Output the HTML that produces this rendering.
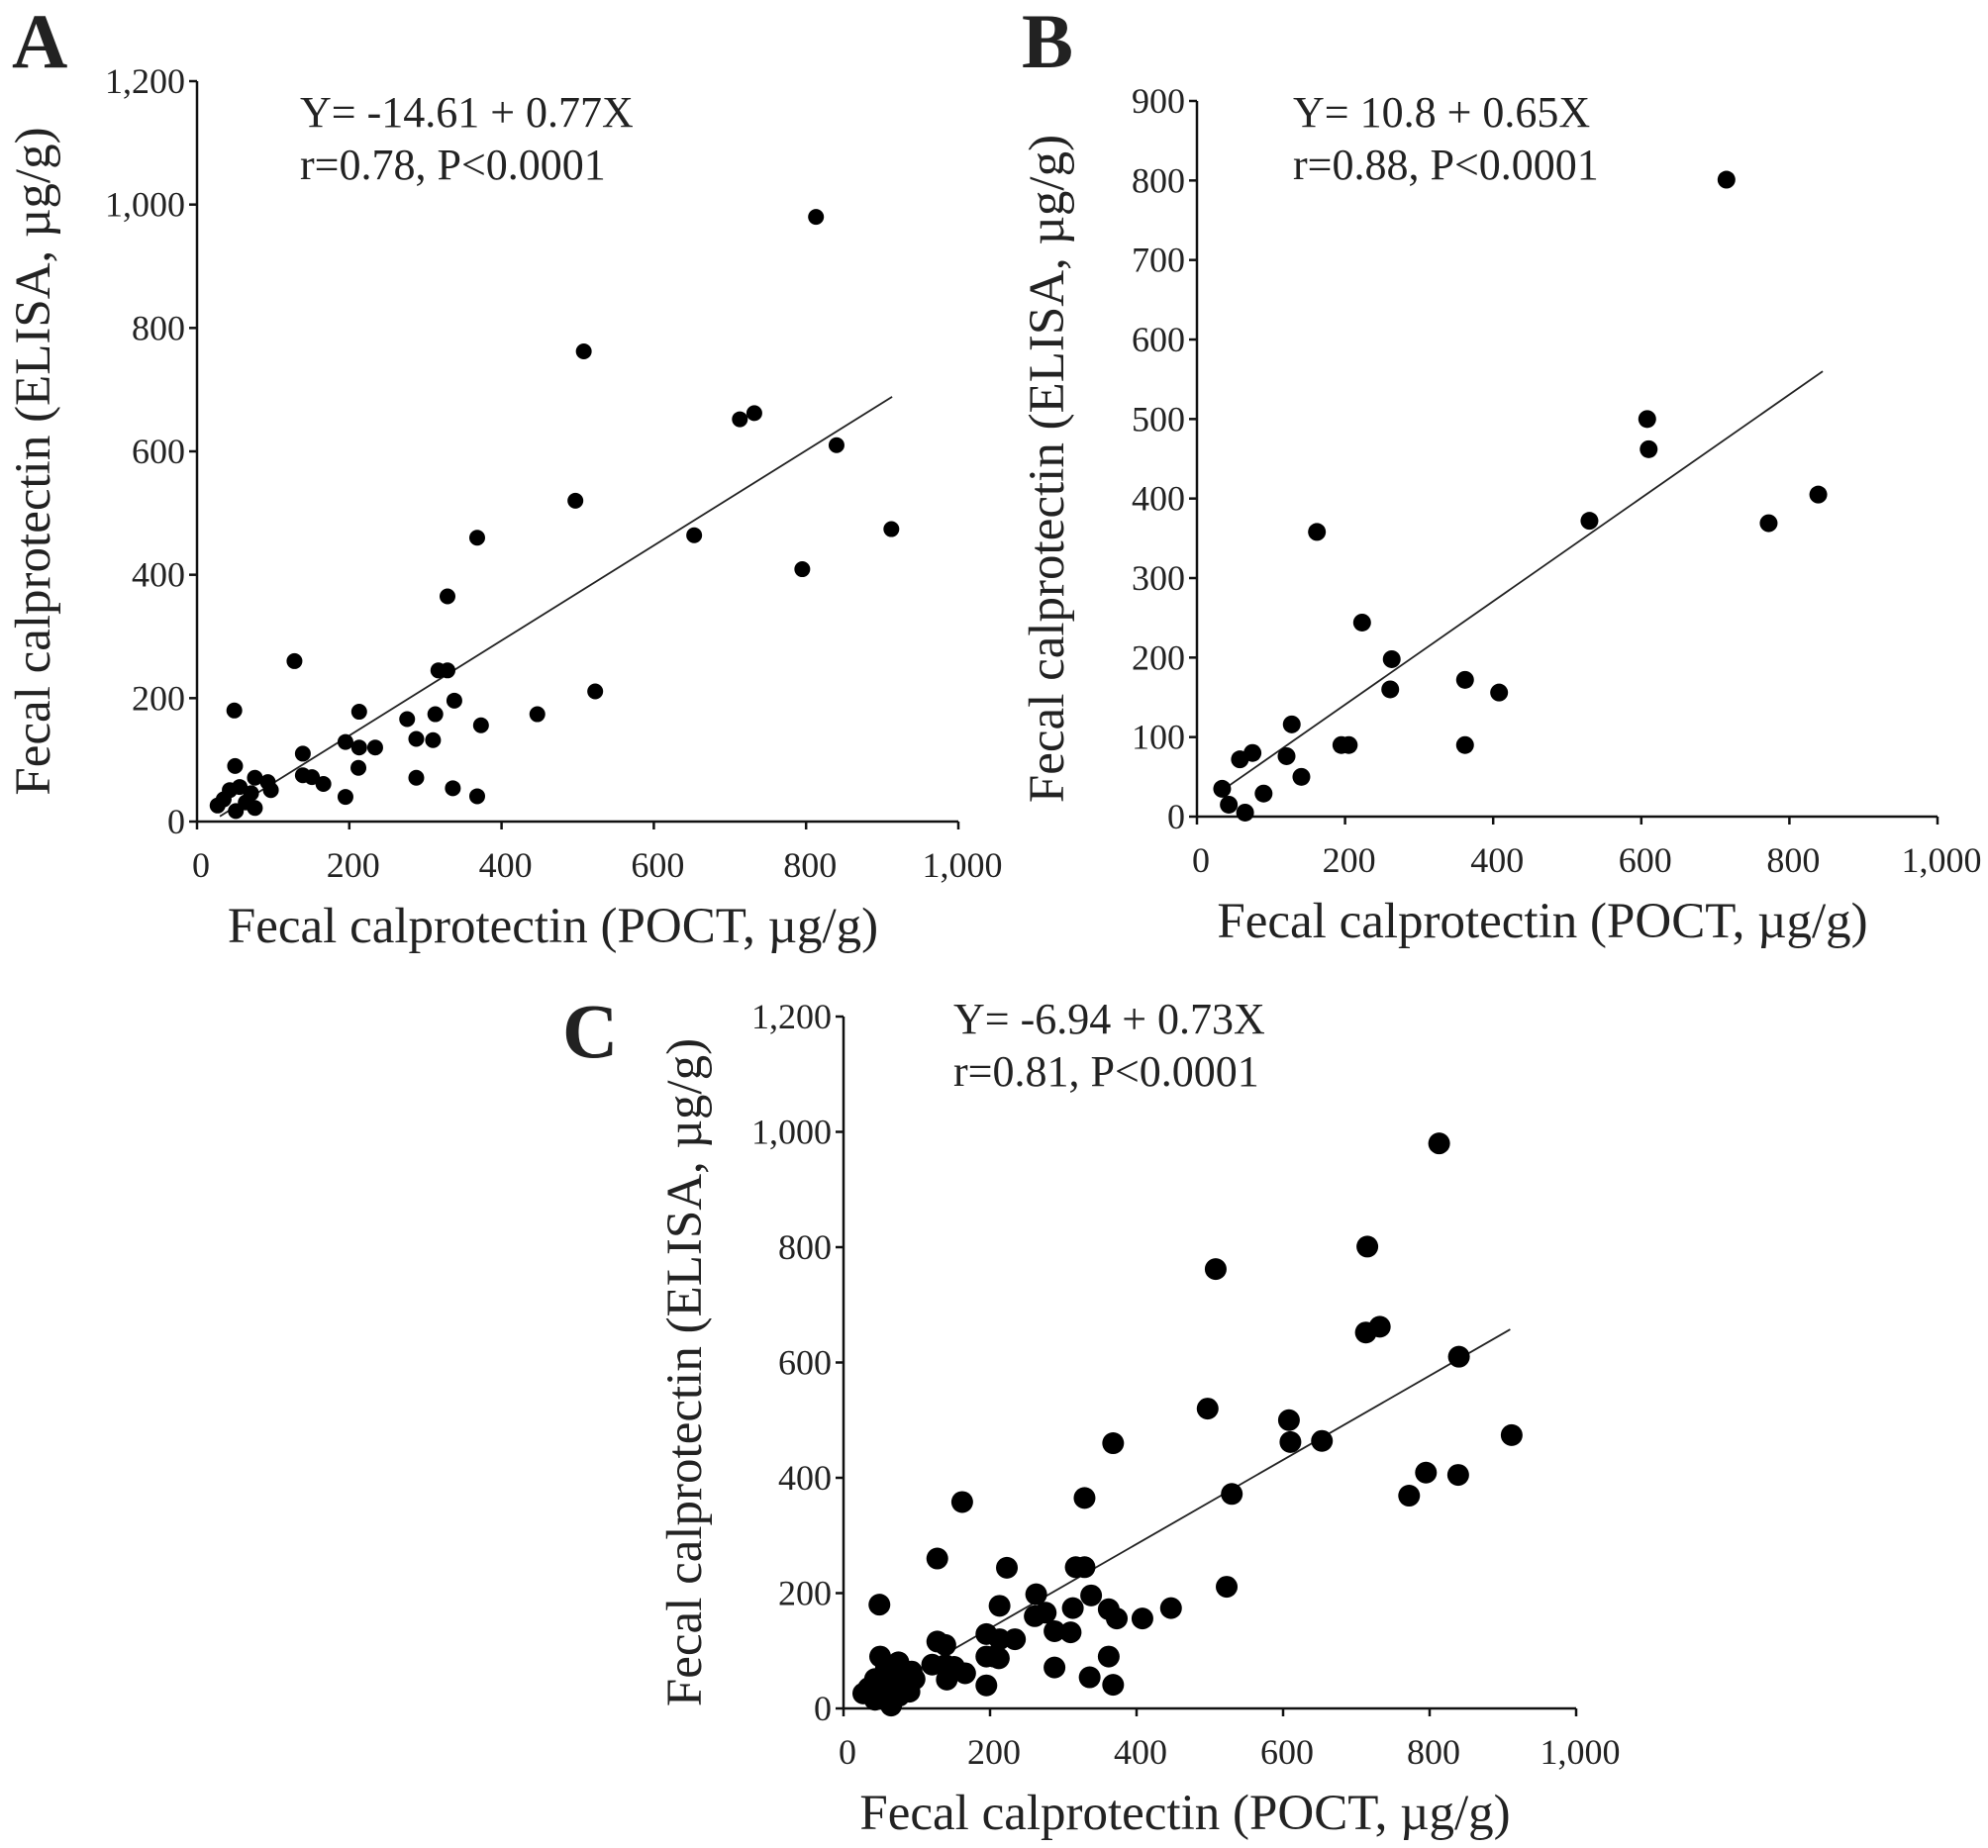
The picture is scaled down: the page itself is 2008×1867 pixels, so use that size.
<!DOCTYPE html>
<html><head><meta charset="utf-8"><style>
html,body{margin:0;padding:0;background:#fff}
svg{display:block}
text{font-family:"Liberation Serif",serif;fill:#222}
</style></head><body>
<svg id="fig" width="2008" height="1867" viewBox="0 0 2008 1867" xmlns="http://www.w3.org/2000/svg"></svg>
<script>
// Panel A data (POCT x, ELISA y)
const aX = [813,508,713,732,840,497,368,653,912,795,329,128,317,329,523,338,49,213,313,447,276,373,288,310,195,213,234,139,212,50,139,151,166,288,336,195,368,35,43,56,76,93,97,64,76,51,27,71];
const aY = [980,762,652,662,610,520,460,464,474,409,365,260,245,245,211,196,180,178,174,174,166,156,134,132,129,120,120,110,87,90,75,72,61,71,54,40,41,36,51,56,71,64,51,31,22,17,26,46];
// Panel B data
const bX = [715,608,610,530,839,772,162,223,263,261,362,408,362,128,195,205,121,58,75,141,34,43,65,90];
const bY = [801,500,462,372,405,369,358,244,198,160,172,156,90,116,90,90,76,72,80,50,35,15,5,29];
// Panel C extra cluster points
const cExtraX = [60,70,80,55,45,85,65];
const cExtraY = [40,60,30,50,20,45,10];
// Tick labels
const ticksA = [0,200,400,600,800,1000,1200];
const ticksB = [0,100,200,300,400,500,600,700,800,900];
const ticksX = [0,200,400,600,800,1000];
// Regression fits [intercept, slope, xStart, xEnd]
const fitA = [-14.61,0.77,30,913];
const fitB = [10.8,0.65,30,845];
const fitC = [-6.94,0.73,30,910];

const NS="http://www.w3.org/2000/svg";
const svg=document.getElementById('fig');
function mk(tag,attrs,parent){const e=document.createElementNS(NS,tag);for(const k in attrs)e.setAttribute(k,attrs[k]);(parent||svg).appendChild(e);return e;}
function fmt(v){return v>=1000?String(v).replace(/(\d)(\d{3})$/,'$1,$2'):String(v);}

function panel(p){
  const g=mk('g',{});
  
  
  const sx=v=>p.x0+(v/1000)*(p.x1-p.x0);
  const sy=v=>p.y0-(v/p.ymax)*(p.y0-p.y1);
  const ax=mk('line',{x1:p.x0,y1:p.y1,x2:p.x0,y2:p.y0,stroke:'#111','stroke-width':2.5},g);
  
  
  const bx=mk('line',{x1:p.x0,y1:p.y0,x2:p.x1,y2:p.y0,stroke:'#111','stroke-width':2.5},g);
  
  
  p.yt.forEach(v=>{
    mk('line',{x1:p.x0-8,y1:sy(v),x2:p.x0,y2:sy(v),stroke:'#111','stroke-width':2.5},g);
    const t=mk('text',{x:p.x0-12,y:sy(v)+12,'text-anchor':'end','font-size':36},g);
    t.textContent=fmt(v);
    
    
  });
  ticksX.forEach(v=>{
    mk('line',{x1:sx(v),y1:p.y0,x2:sx(v),y2:p.y0+8,stroke:'#111','stroke-width':2.5},g);
    const t=mk('text',{x:sx(v)+4,y:p.y0+56,'text-anchor':'middle','font-size':36},g);
    t.textContent=fmt(v);
    
    
  });
  const f=p.fit;
  const ln=mk('line',{x1:sx(f[2]),y1:sy(f[0]+f[1]*f[2]),x2:sx(f[3]),y2:sy(f[0]+f[1]*f[3]),stroke:'#222','stroke-width':1.8},g);
  
  
  p.xs.forEach((xv,i)=>{
    const c=mk('circle',{cx:sx(xv),cy:sy(p.ys[i]),r:p.r,fill:'#000'},g);
    
    
  });
  const L=mk('text',{x:p.lx,y:p.ly,'font-size':78,'font-weight':'bold'},g);
  L.textContent=p.id;
  
  
  const e1=mk('text',{x:p.ex,y:p.ey,'font-size':44},g);
  e1.textContent=p.eq;
  
  
  const e2=mk('text',{x:p.ex,y:p.ey+53,'font-size':44},g);
  e2.textContent=p.st;
  
  
  const xt=mk('text',{x:(p.x0+p.x1)/2-25,y:p.y0+122,'text-anchor':'middle','font-size':51},g);
  xt.textContent='Fecal calprotectin (POCT, \u00b5g/g)';
  
  
  const cy=(p.y0+p.y1)/2+10;
  const yt=mk('text',{x:p.ytx,y:cy,'text-anchor':'middle','font-size':51,transform:`rotate(-90 ${p.ytx} ${cy})`},g);
  yt.textContent='Fecal calprotectin (ELISA, \u00b5g/g)';
  
  
}

panel({id:'A',x0:199,x1:968,y0:830,y1:82,ymax:1200,yt:ticksA,xs:aX,ys:aY,r:8,fit:fitA,
  lx:12,ly:68,ex:303,ey:128,eq:'Y= -14.61 + 0.77X',st:'r=0.78,  P<0.0001',ytx:50});
panel({id:'B',x0:1209,x1:1957,y0:825,y1:102,ymax:900,yt:ticksB,xs:bX,ys:bY,r:9,fit:fitB,
  lx:1032,ly:68,ex:1306,ey:128,eq:'Y= 10.8 + 0.65X',st:'r=0.88, P<0.0001',ytx:1074});
panel({id:'C',x0:852,x1:1592,y0:1726,y1:1027,ymax:1200,yt:ticksA,xs:aX.concat(bX,cExtraX),ys:aY.concat(bY,cExtraY),r:11,fit:fitC,
  lx:568,ly:1068,ex:963,ey:1044,eq:'Y= -6.94 + 0.73X',st:'r=0.81,  P<0.0001',ytx:708});
</script>
</body></html>
